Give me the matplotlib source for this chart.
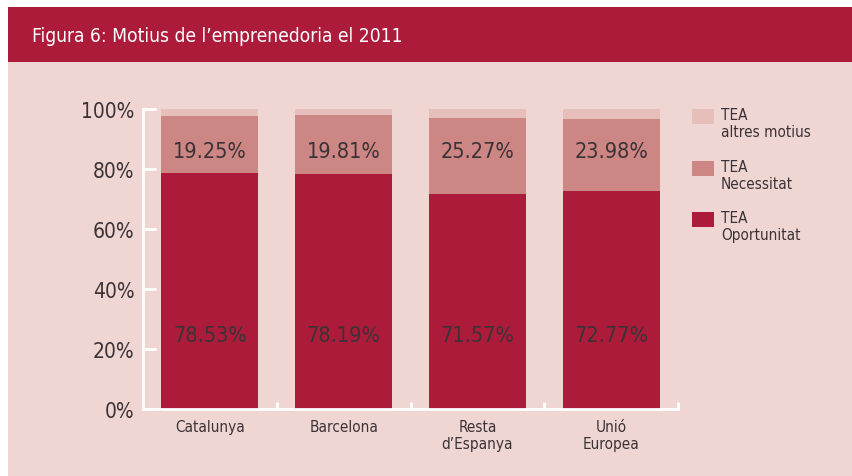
import matplotlib
matplotlib.use("Agg")
import matplotlib.pyplot as plt
from matplotlib.patches import Rectangle

plt.rcParams['font.family'] = ['DejaVu Sans']
plt.rcParams['font.stretch'] = 'condensed'

categories = ["Catalunya", "Barcelona", "Resta\nd\u2019Espanya", "Unió\nEuropea"]
oportunitat = [78.53, 78.19, 71.57, 72.77]
necessitat = [19.25, 19.81, 25.27, 23.98]
altres = [2.22, 2.00, 3.16, 3.25]

c_dark = "#AC1C3A"
c_mid = "#CC8683"
c_light = "#E6BFBB"
bg = "#F0D6D2"
txt = "#3A3236"

W, H = 852, 477
fig = plt.figure(figsize=(W / 100, H / 100), dpi=100)
fig.patch.set_facecolor("white")

# panel and header band
fig.patches.append(Rectangle((8 / W, 0), 1 - 8 / W, 1 - 8 / H, transform=fig.transFigure,
                             facecolor=bg, edgecolor="none", zorder=-2))
fig.patches.append(Rectangle((8 / W, 1 - 63 / H), 1 - 8 / W, 55 / H, transform=fig.transFigure,
                             facecolor=c_dark, edgecolor="none", zorder=-1))
fig.text(32 / W, 1 - 37 / H, "Figura 6: Motius de l\u2019emprenedoria el 2011", color="white",
         fontsize=13.8, va="center", ha="left")

ax = fig.add_axes([143 / W, 1 - 410 / H, 535 / W, 300 / H], zorder=2)
ax.set_facecolor("none")
x = range(len(categories))
w = 0.725
ax.bar(x, oportunitat, w, color=c_dark, zorder=2)
ax.bar(x, necessitat, w, bottom=oportunitat, color=c_mid, zorder=2)
bottoms = [a + b for a, b in zip(oportunitat, necessitat)]
ax.bar(x, altres, w, bottom=bottoms, color=c_light, zorder=2)

for i in x:
    ax.text(i, 24.7, f"{oportunitat[i]:.2f}%", ha="center", va="center", fontsize=15.5, color=txt)
    ax.text(i, 86, f"{necessitat[i]:.2f}%", ha="center", va="center", fontsize=15.5, color=txt)

ax.set_xlim(-0.5, 3.5)
ax.set_ylim(0, 100)
ax.set_yticks(range(0, 101, 20))
ax.set_yticklabels([f"{v}%" for v in range(0, 101, 20)], fontsize=15, color=txt)
ax.set_xticks([0.5, 1.5, 2.5, 3.5])
ax.set_xticklabels([])
for i, c in enumerate(categories):
    ax.text(i, -3.5, c, ha="center", va="top", fontsize=11, color=txt, linespacing=1.15)
ax.tick_params(axis="y", direction="in", length=9, width=2, color="white", pad=6)
ax.tick_params(axis="x", direction="in", length=5, width=2, color="white")
for s in ["top", "right"]:
    ax.spines[s].set_visible(False)
for s in ["left", "bottom"]:
    ax.spines[s].set_color("white")
    ax.spines[s].set_linewidth(2)

# legend
leg = [("TEA\naltres motius", c_light, 110), ("TEA\nNecessitat", c_mid, 162), ("TEA\nOportunitat", c_dark, 213)]
for label, col, ytop in leg:
    fig.patches.append(Rectangle((692 / W, 1 - (ytop + 15) / H), 22 / W, 15 / H,
                                 transform=fig.transFigure, facecolor=col, edgecolor="none"))
    fig.text(721 / W, 1 - (ytop - 2) / H, label, fontsize=11, color=txt, va="top", ha="left",
             linespacing=1.2)

fig.savefig("out.png", dpi=100, facecolor=fig.get_facecolor())
